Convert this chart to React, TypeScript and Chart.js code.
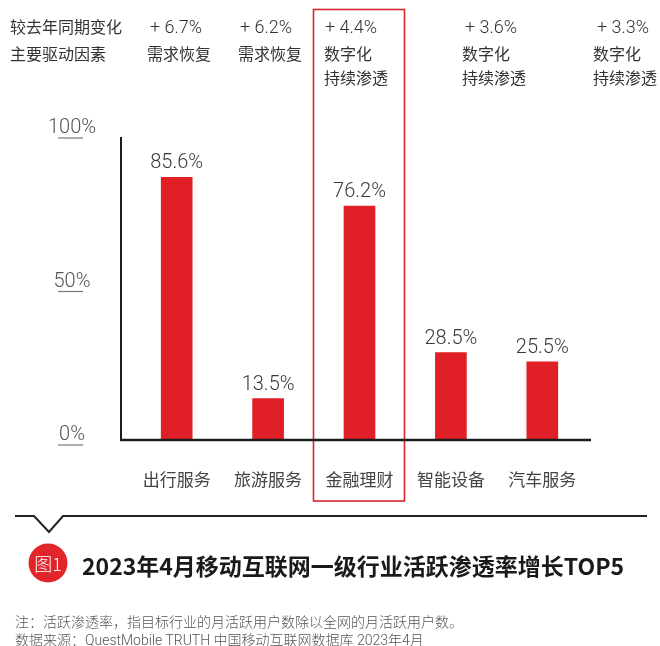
import React, { useEffect, useRef } from 'react';
import { Chart, registerables } from 'chart.js';

Chart.register(...registerables);

// ---- data ----
const categories = ['出行服务', '旅游服务', '金融理财', '智能设备', '汽车服务'];
const penetration = [85.6, 13.5, 76.2, 28.5, 25.5];
const yoyChange = ['+ 6.7%', '+ 6.2%', '+ 4.4%', '+ 3.6%', '+ 3.3%'];
const drivers = [
  ['需求恢复'],
  ['需求恢复'],
  ['数字化', '持续渗透'],
  ['数字化', '持续渗透'],
  ['数字化', '持续渗透'],
];
const yTicks = [0, 50, 100];
const highlightIndex = 2;
const rowLabels = ['较去年同期变化', '主要驱动因素'];
const chartTitle = '2023年4月移动互联网一级行业活跃渗透率增长TOP5';
const figureTag = '图1';
const notes = [
  '注：活跃渗透率，指目标行业的月活跃用户数除以全网的月活跃用户数。',
  '数据来源：QuestMobile TRUTH 中国移动互联网数据库 2023年4月',
];

// ---- layout ----
const headerPctLeft = [150, 240, 325, 465, 597];
const headerDrvLeft = [147, 238, 324, 462, 593];
const rowCenters = [26, 53, 77];

const LATIN = 'Roboto, "Noto Sans CJK SC", sans-serif';
const CJK = '"Noto Sans CJK SC", sans-serif';

const decorPlugin = {
  id: 'decor',
  afterDatasetsDraw(chart: any) {
    const { ctx, chartArea, scales } = chart;
    const xs = scales.x;
    const ys = scales.y;
    const y0 = ys.getPixelForValue(0);
    const yTop = ys.getPixelForValue(100);
    const left = chartArea.left;
    ctx.save();

    // highlight box
    const hc = xs.getPixelForValue(highlightIndex);
    ctx.strokeStyle = '#d8262d';
    ctx.lineWidth = 1.6;
    ctx.strokeRect(hc - 46, 9.5, 91, y0 + 61 - 9.5);

    // axes
    ctx.strokeStyle = '#1c1c1c';
    ctx.lineWidth = 2;
    ctx.beginPath();
    ctx.moveTo(left - 10, yTop + 4);
    ctx.lineTo(left - 10, y0 + 1);
    ctx.stroke();
    ctx.lineWidth = 2.5;
    ctx.beginPath();
    ctx.moveTo(left - 11, y0);
    ctx.lineTo(chartArea.right + 3, y0);
    ctx.stroke();

    // y tick labels with underline
    ctx.font = '300 20px ' + LATIN;
    ctx.fillStyle = '#555';
    ctx.textAlign = 'center';
    ctx.textBaseline = 'middle';
    yTicks.forEach((v) => {
      const y = ys.getPixelForValue(v);
      ctx.fillText(v + '%', left - 59, y - 5);
      ctx.strokeStyle = '#777';
      ctx.lineWidth = 1.2;
      ctx.beginPath();
      ctx.moveTo(left - 73, y + 5);
      ctx.lineTo(left - 48, y + 5);
      ctx.stroke();
    });

    // data labels
    const meta = chart.getDatasetMeta(0);
    ctx.font = '300 20px ' + LATIN;
    ctx.fillStyle = '#3a3a3a';
    ctx.textBaseline = 'alphabetic';
    meta.data.forEach((bar: any, i: number) => {
      ctx.fillText(penetration[i].toFixed(1) + '%', bar.x, bar.y - 9);
    });

    // category labels
    ctx.font = '17px ' + CJK;
    ctx.fillStyle = '#444';
    ctx.textBaseline = 'middle';
    categories.forEach((c, i) => {
      ctx.fillText(c, xs.getPixelForValue(i), y0 + 40);
    });

    ctx.restore();
  },
};

function Txt(props: { left: number; cy: number; size: number; weight?: number; color?: string; family?: string; children: any; lh?: number }) {
  const lh = props.lh ?? Math.round(props.size * 1.5);
  return (
    <div
      style={{
        position: 'absolute',
        left: props.left,
        top: props.cy - lh / 2,
        height: lh,
        lineHeight: lh + 'px',
        fontSize: props.size,
        fontWeight: props.weight ?? 400,
        color: props.color ?? '#333',
        fontFamily: props.family ?? CJK,
        whiteSpace: 'nowrap',
      }}
    >
      {props.children}
    </div>
  );
}

export default function App() {
  const ref = useRef<HTMLCanvasElement | null>(null);

  useEffect(() => {
    if (!ref.current) return;
    const chart = new Chart(ref.current, {
      type: 'bar',
      data: {
        labels: categories,
        datasets: [
          {
            data: penetration,
            backgroundColor: '#e01f26',
            borderWidth: 0,
            barThickness: 31,
          },
        ],
      },
      options: {
        animation: false,
        responsive: false,
        maintainAspectRatio: false,
        devicePixelRatio: 1,
        layout: { padding: { left: 131, right: 72, top: 133, bottom: 206 } },
        plugins: {
          legend: { display: false },
          tooltip: { enabled: false },
          title: { display: false },
        },
        scales: {
          x: { display: false },
          y: { display: false, min: 0, max: 100 },
        },
      },
      plugins: [decorPlugin],
    } as any);
    return () => chart.destroy();
  }, []);

  return (
    <div style={{ position: 'absolute', left: 0, top: 0, width: 660, height: 646, background: '#fff', overflow: 'hidden' }}>
      <canvas ref={ref} width={660} height={646} style={{ position: 'absolute', left: 0, top: 0, width: 660, height: 646 }} />

      {/* header */}
      <Txt left={10} cy={rowCenters[0]} size={16}>{rowLabels[0]}</Txt>
      <Txt left={10} cy={rowCenters[1]} size={16}>{rowLabels[1]}</Txt>
      {yoyChange.map((t, i) => (
        <Txt key={'p' + i} left={headerPctLeft[i]} cy={rowCenters[0]} size={18} weight={300} family={LATIN}>
          {t}
        </Txt>
      ))}
      {drivers.map((lines, i) =>
        lines.map((t, j) => (
          <Txt key={'d' + i + '-' + j} left={headerDrvLeft[i]} cy={rowCenters[1 + j]} size={16}>
            {t}
          </Txt>
        ))
      )}

      {/* bottom decoration */}
      <svg width={660} height={646} style={{ position: 'absolute', left: 0, top: 0, pointerEvents: 'none' }}>
        <polyline points="15,516 34,516 49,532 63,516 647,516" fill="none" stroke="#222" strokeWidth={2} />
        <circle cx={48} cy={563} r={19.5} fill="#e2252b" />
      </svg>
      <div
        style={{
          position: 'absolute',
          left: 28.5,
          top: 551,
          width: 39,
          height: 24,
          lineHeight: '24px',
          textAlign: 'center',
          color: '#fff',
          fontSize: 18,
          fontWeight: 300,
          fontFamily: CJK,
          whiteSpace: 'nowrap',
        }}
      >
        {figureTag}
      </div>
      <Txt left={82} cy={565} size={23} weight={700} color="#1a1a1a">
        {chartTitle}
      </Txt>

      {/* notes */}
      <Txt left={15} cy={622} size={14} weight={300} color="#555" family={LATIN} lh={18}>
        {notes[0]}
      </Txt>
      <Txt left={15} cy={640} size={14} weight={300} color="#555" family={LATIN} lh={18}>
        {notes[1]}
      </Txt>
    </div>
  );
}
